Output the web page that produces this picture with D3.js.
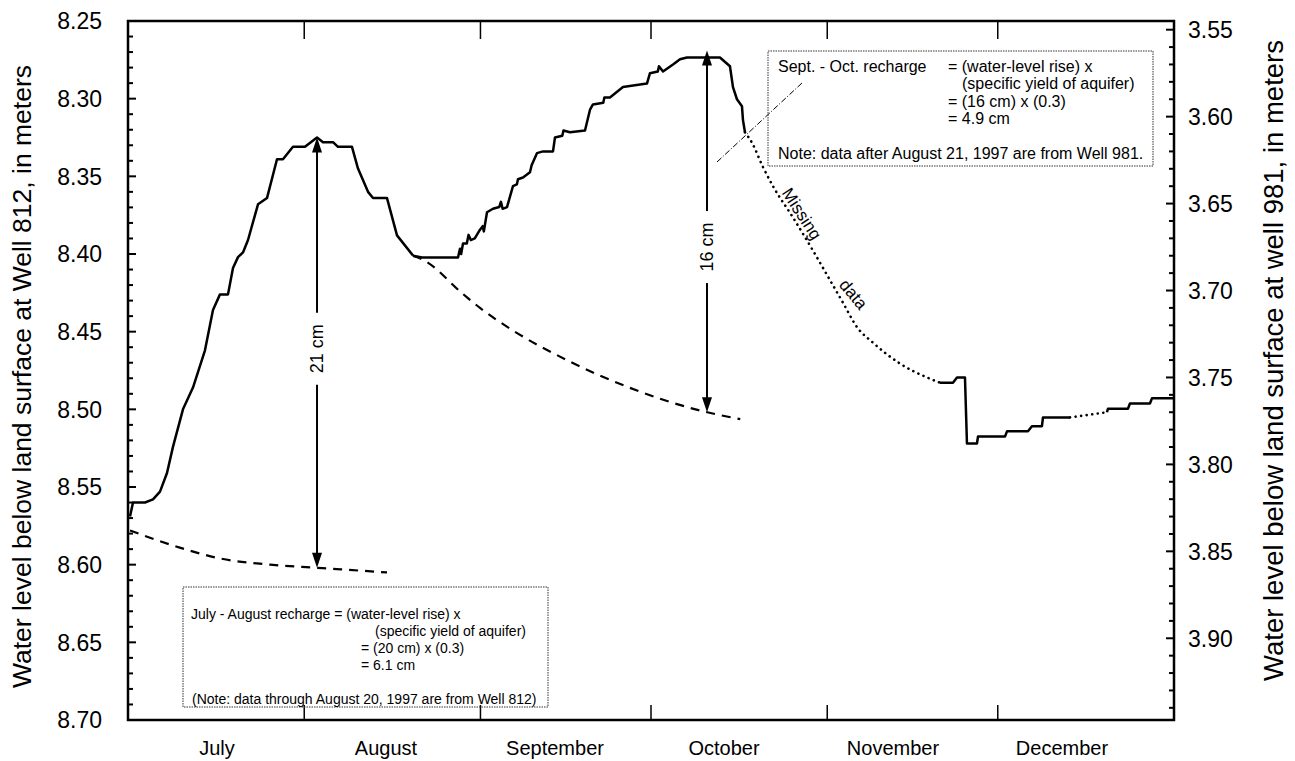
<!DOCTYPE html>
<html>
<head>
<meta charset="utf-8">
<script src="https://cdn.jsdelivr.net/npm/d3@7"></script>
<style>
  body { margin: 0; background: #fff; }
  svg { display: block; }
  text { font-family: "Liberation Sans", Arial, Helvetica, sans-serif; fill: #000; }
</style>
</head>
<body>
<svg id="chart" width="1295" height="761"></svg>
<script>
// ---- data -------------------------------------------------------------
// Days are counted from 1 July 1997 (0 = start of July 1).
const months = ["July", "August", "September", "October", "November", "December"];
const leftTicks = [8.25, 8.30, 8.35, 8.40, 8.45, 8.50, 8.55, 8.60, 8.65, 8.70];
const rightTicks = [3.55, 3.60, 3.65, 3.70, 3.75, 3.80, 3.85, 3.90];

// Well 812 water level (m below land surface), July 1 - August 20
const well812 = [
  [0.35, 8.569], [0.88, 8.560], [2.99, 8.560], [4.40, 8.558], [5.63, 8.553],
  [6.86, 8.541], [7.92, 8.524], [9.67, 8.500], [11.43, 8.486], [13.54, 8.462],
  [14.95, 8.436], [16.18, 8.426], [17.59, 8.426], [18.47, 8.409], [19.35, 8.402],
  [20.23, 8.399], [21.11, 8.391], [22.87, 8.368], [24.45, 8.364], [26.21, 8.339],
  [27.26, 8.339], [29.02, 8.331], [31.13, 8.331], [33.25, 8.325], [34.30, 8.328],
  [36.06, 8.328], [36.94, 8.331], [39.40, 8.331], [40.46, 8.345], [42.22, 8.360],
  [43.10, 8.364], [45.56, 8.364], [47.32, 8.388], [50.13, 8.401]
];

// Well 981 water level (m below land surface), recorded pieces
const well981A = [
  [50.13, 3.680], [51.72, 3.681], [58.05, 3.681], [58.4, 3.676], [58.6, 3.679],
  [58.93, 3.673], [59.6, 3.673], [59.9, 3.668], [60.3, 3.671], [61.0, 3.670],
  [61.92, 3.665], [62.4, 3.663], [62.6, 3.666], [63.15, 3.655], [64.20, 3.653],
  [65.3, 3.652], [65.6, 3.649], [65.9, 3.653], [66.67, 3.652], [67.72, 3.640],
  [68.4, 3.639], [68.6, 3.636], [69.48, 3.635], [70.71, 3.632], [71.0, 3.628],
  [71.94, 3.621], [73.00, 3.620], [74.76, 3.620], [75.11, 3.612], [76.4, 3.611],
  [76.6, 3.608], [77.75, 3.609], [80.39, 3.608], [81.27, 3.596], [81.79, 3.593],
  [83.6, 3.592], [83.8, 3.589], [84.78, 3.589], [87.07, 3.583], [91.29, 3.581],
  [91.82, 3.575], [93.2, 3.574], [93.4, 3.571], [94.11, 3.574], [95.87, 3.570],
  [97.10, 3.567], [98.33, 3.566], [101.14, 3.566], [103.25, 3.566], [104.13, 3.566],
  [105.89, 3.571], [106.42, 3.583], [107.12, 3.590], [108.00, 3.594], [108.18, 3.602],
  [108.53, 3.609]
];
// gap in the record, drawn as an estimated trace
const well981Missing1 = [
  [108.53, 3.609], [109.76, 3.615], [111.70, 3.629], [113.46, 3.640], [116.98, 3.658],
  [120.49, 3.677], [123.48, 3.694], [125.77, 3.707], [128.23, 3.721], [131.05, 3.730],
  [135.80, 3.742], [140.55, 3.750], [142.83, 3.753]
];
const well981B = [
  [142.83, 3.753], [145.12, 3.753], [145.82, 3.750], [147.23, 3.750], [147.58, 3.788],
  [149.34, 3.788], [149.52, 3.784], [154.27, 3.784], [154.62, 3.781], [158.31, 3.781],
  [159.01, 3.778], [160.77, 3.778], [160.95, 3.773], [165.70, 3.773]
];
const well981Missing2 = [[165.70, 3.773], [172.21, 3.770]];
const well981C = [
  [172.21, 3.770], [172.38, 3.768], [175.90, 3.768], [176.25, 3.765], [179.77, 3.765],
  [180.12, 3.762], [183.82, 3.762]
];

// Extrapolated recession curves (no recharge)
const recessionJuly = [
  [0.35, 8.578], [9.1, 8.589], [16.2, 8.596], [25.0, 8.600], [33.25, 8.602], [45.56, 8.605]
];
const recessionSept = [
  [50.13, 3.680], [51.72, 3.682], [58.93, 3.702], [61.92, 3.710], [67.72, 3.723],
  [77.2, 3.740], [88.3, 3.756], [100.6, 3.769], [107.7, 3.774]
];

// Water-level rise measurements: [day, top level, bottom level]
const riseJulyAug = [33.25, 8.325, 8.602];
const riseSeptOct = [101.85, 3.562, 3.770];

// ---- layout -------------------------------------------------------------
const svg = d3.select("#chart");
const plot = { left: 128, right: 1174, top: 21, bottom: 720 };
const t0 = Date.UTC(1997, 6, 1), t1 = Date.UTC(1998, 0, 1);
const dayMs = 864e5;

const x = d3.scaleUtc().domain([new Date(t0), new Date(t1)]).range([plot.left, plot.right]);
const xd = d => x(new Date(t0 + d * dayMs));
const yL = d3.scaleLinear().domain([8.25, 8.70]).range([plot.top, plot.bottom]);
const yR = d3.scaleLinear().domain([3.545, 3.947]).range([plot.top, plot.bottom]);

const lineL = d3.line().x(d => xd(d[0])).y(d => yL(d[1]));
const lineR = d3.line().x(d => xd(d[0])).y(d => yR(d[1]));
const smoothL = d3.line().curve(d3.curveMonotoneX).x(d => xd(d[0])).y(d => yL(d[1]));
const smoothR = d3.line().curve(d3.curveMonotoneX).x(d => xd(d[0])).y(d => yR(d[1]));

// ---- axes ---------------------------------------------------------------
// left axis: inward ticks every 0.01 m, labels every 0.05 m
const leftMinor = d3.range(8.25, 8.7001, 0.01);
svg.append("g").selectAll("line").data(leftMinor).join("line")
  .attr("x1", plot.left).attr("x2", (d, i) => plot.left + (i % 5 === 0 ? 8 : 5))
  .attr("y1", d => yL(d)).attr("y2", d => yL(d))
  .attr("stroke", "#000").attr("stroke-width", 2);
svg.append("g").selectAll("text").data(leftTicks).join("text")
  .attr("x", plot.left - 26).attr("y", d => yL(d)).attr("dy", "0.36em")
  .attr("text-anchor", "end").attr("font-size", 23)
  .text(d => d.toFixed(2));

const rightMinor = d3.range(3.55, 3.9401, 0.01);
svg.append("g").selectAll("line").data(rightMinor).join("line")
  .attr("x1", plot.right).attr("x2", (d, i) => plot.right - (i % 5 === 0 ? 8 : 5))
  .attr("y1", d => yR(d)).attr("y2", d => yR(d))
  .attr("stroke", "#000").attr("stroke-width", 2);
svg.append("g").selectAll("text").data(rightTicks).join("text")
  .attr("x", plot.right + 14).attr("y", d => yR(d)).attr("dy", "0.36em")
  .attr("text-anchor", "start").attr("font-size", 23)
  .text(d => d.toFixed(2));

// month boundaries: ticks pointing in from top and bottom
const monthStarts = d3.utcMonth.range(new Date(Date.UTC(1997, 7, 1)), new Date(t1));
const mt = svg.append("g");
mt.selectAll("line.top").data(monthStarts).join("line").attr("class", "top")
  .attr("x1", d => x(d)).attr("x2", d => x(d))
  .attr("y1", plot.top).attr("y2", plot.top + 18)
  .attr("stroke", "#000").attr("stroke-width", 1.5);
mt.selectAll("line.bot").data(monthStarts).join("line").attr("class", "bot")
  .attr("x1", d => x(d)).attr("x2", d => x(d))
  .attr("y1", plot.bottom).attr("y2", plot.bottom - 15)
  .attr("stroke", "#000").attr("stroke-width", 1.5);

// month names, evenly spaced under the axis
const xm = d3.scalePoint().domain(months).range([plot.left + 89, plot.right - 112]);
svg.append("g").selectAll("text").data(months).join("text")
  .attr("x", d => xm(d)).attr("y", 755)
  .attr("text-anchor", "middle").attr("font-size", 20)
  .text(d => d);

// axis titles
svg.append("text")
  .attr("transform", `translate(31,${(plot.top + plot.bottom) / 2 + 6}) rotate(-90)`)
  .attr("text-anchor", "middle").attr("font-size", 26.5)
  .text("Water level below land surface at Well 812, in meters");
svg.append("text")
  .attr("transform", `translate(1283,${(plot.top + plot.bottom) / 2 - 10}) rotate(-90)`)
  .attr("text-anchor", "middle").attr("font-size", 27.5)
  .text("Water level below land surface at well 981, in meters");

// ---- curves -------------------------------------------------------------
const solid = { stroke: "#000", "stroke-width": 2.5, fill: "none", "stroke-linejoin": "round" };
function draw(path, style, dash) {
  const p = svg.append("path").attr("d", path);
  Object.entries(style).forEach(([k, v]) => p.attr(k, v));
  if (dash) p.attr("stroke-dasharray", dash);
  return p;
}
draw(smoothL(recessionJuly), { ...solid, "stroke-width": 2.2 }, "9,7");
draw(smoothR(recessionSept), { ...solid, "stroke-width": 2.2 }, "9,7");
draw(lineL(well812), solid);
draw(lineR(well981A), solid);
draw(smoothR(well981Missing1), { ...solid, "stroke-width": 2.6, "stroke-linecap": "round" }, "0.1,5.5");
draw(lineR(well981B), solid);
draw(lineR(well981Missing2), { ...solid, "stroke-width": 2.6, "stroke-linecap": "round" }, "0.1,5.5");
draw(lineR(well981C), solid);

// ---- rise arrows --------------------------------------------------------
function riseArrow(rise, scale, label, labelLevel) {
  const ax = xd(rise[0]);
  const yt = scale(rise[1]), yb = scale(rise[2]);
  const g = svg.append("g");
  g.append("line").attr("x1", ax).attr("x2", ax).attr("y1", yt + 10).attr("y2", yb - 10)
    .attr("stroke", "#000").attr("stroke-width", 2);
  g.append("path").attr("d", `M${ax},${yt} L${ax - 5},${yt + 15} L${ax + 5},${yt + 15} Z`).attr("fill", "#000");
  g.append("path").attr("d", `M${ax},${yb} L${ax - 5},${yb - 15} L${ax + 5},${yb - 15} Z`).attr("fill", "#000");
  const cy = scale(labelLevel);
  g.append("rect").attr("x", ax - 9).attr("y", cy - 36).attr("width", 18).attr("height", 72).attr("fill", "#fff");
  g.append("text").attr("transform", `translate(${ax + 6},${cy}) rotate(-90)`)
    .attr("text-anchor", "middle").attr("font-size", 18).text(label);
}
riseArrow(riseJulyAug, yL, "21 cm", 8.461);
riseArrow(riseSeptOct, yR, "16 cm", 3.675);

// ---- annotations --------------------------------------------------------
// leader from the Sept.-Oct. box down to the curve
svg.append("line").attr("x1", 717).attr("y1", 162).attr("x2", 802).attr("y2", 83)
  .attr("stroke", "#000").attr("stroke-width", 1).attr("stroke-dasharray", "6,2,1,2");

// labels along the missing-data trace
svg.append("text").attr("transform", "translate(797,217) rotate(57)")
  .attr("text-anchor", "middle").attr("font-size", 17).text("Missing");
svg.append("text").attr("transform", "translate(849,298) rotate(50)")
  .attr("text-anchor", "middle").attr("font-size", 17).text("data");

function noteBox(box, lines) {
  const g = svg.append("g");
  g.append("rect").attr("x", box.x).attr("y", box.y).attr("width", box.w).attr("height", box.h)
    .attr("fill", "none").attr("stroke", "#333").attr("stroke-width", 1).attr("stroke-dasharray", "1.5,1");
  lines.forEach(l => g.append("text").attr("x", l[0]).attr("y", l[1])
    .attr("font-size", box.fs).text(l[2]));
}
noteBox({ x: 768, y: 51, w: 385, h: 115, fs: 16 }, [
  [778, 72, "Sept. - Oct. recharge"],
  [948, 72, "= (water-level rise) x"],
  [962, 89, "(specific yield of aquifer)"],
  [948, 107, "= (16 cm) x (0.3)"],
  [948, 124, "= 4.9 cm"],
  [778, 159, "Note: data after August 21, 1997 are from Well 981."]
]);
noteBox({ x: 183, y: 587, w: 365, h: 120, fs: 14 }, [
  [191, 619, "July - August recharge = (water-level rise) x"],
  [375, 636, "(specific yield of aquifer)"],
  [361, 653, "= (20 cm) x (0.3)"],
  [361, 670, "= 6.1 cm"],
  [192, 704, "(Note: data through August 20, 1997 are from Well 812)"]
]);

// ---- frame ----------------------------------------------------------------
svg.append("rect").attr("x", plot.left).attr("y", plot.top)
  .attr("width", plot.right - plot.left).attr("height", plot.bottom - plot.top)
  .attr("fill", "none").attr("stroke", "#000").attr("stroke-width", 2.5);
</script>
</body>
</html>
